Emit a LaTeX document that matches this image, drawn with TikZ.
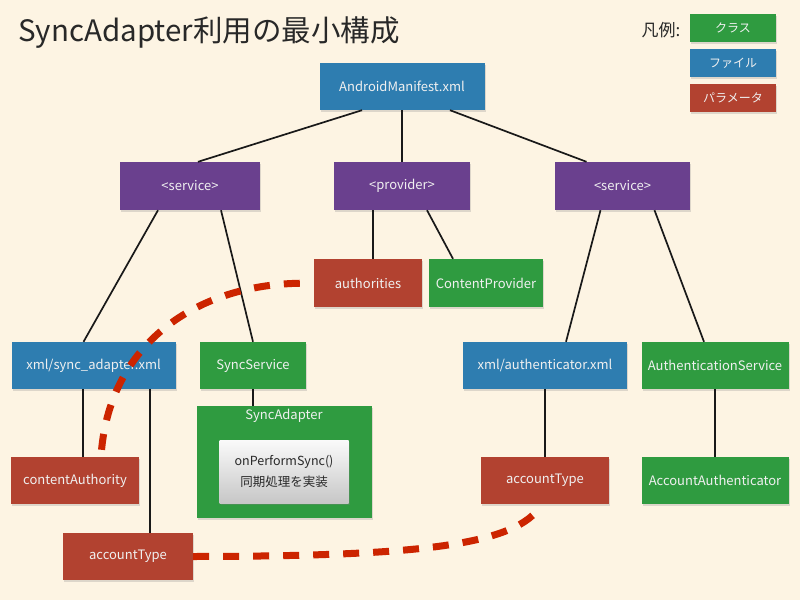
\documentclass[tikz,border=0pt]{standalone}
\usepackage{fontspec}
\setmainfont{Noto Sans CJK JP}
\usetikzlibrary{calc,shadows}
\definecolor{bg}{RGB}{253,244,227}
\definecolor{cblue}{RGB}{46,125,176}
\definecolor{cpurple}{RGB}{106,64,142}
\definecolor{cred}{RGB}{178,66,48}
\definecolor{cgreen}{RGB}{47,155,64}
\definecolor{cdash}{RGB}{204,36,0}
\definecolor{ctext}{RGB}{240,240,240}
\definecolor{cline}{RGB}{25,25,25}
\definecolor{cdark}{RGB}{40,40,40}
\tikzset{
  box/.style={rectangle, inner sep=0pt, text=ctext, font=\fontsize{13}{16}\selectfont,
    drop shadow={shadow xshift=1pt, shadow yshift=-1.5pt, opacity=0.25}},
  bluebox/.style={box, fill=cblue},
  purplebox/.style={box, fill=cpurple},
  redbox/.style={box, fill=cred},
  greenbox/.style={box, fill=cgreen},
  legbox/.style={minimum width=86pt, minimum height=28pt, font=\fontsize{12}{14}\selectfont},
  conn/.style={draw=cline, line width=1.7pt},
  reflink/.style={draw=cdash, line width=7pt, dash pattern=on 16pt off 14pt},
}
\begin{document}
\begin{tikzpicture}[x=1pt,y=-1pt]
\fill[bg] (0,0) rectangle (800,600);
\useasboundingbox (0,0) rectangle (800,600);

% title and legend
\node[anchor=west, inner sep=0pt, text=cdark, font=\fontsize{29.5}{34}\selectfont] (title) at (18,33) {SyncAdapter利用の最小構成};
\node[inner sep=0pt, text=cdark, font=\fontsize{17}{20}\selectfont] (legend) at (661,30) {凡例:};
\node[greenbox, legbox] (legclass) at (733,28) {クラス};
\node[bluebox, legbox] (legfile) at (733,63) {ファイル};
\node[redbox, legbox] (legparam) at (733,98) {パラメータ};

% nodes
\node[bluebox, minimum width=165pt, minimum height=47pt] (manifest) at (402,86.5) {AndroidManifest.xml};
\node[purplebox, minimum width=140pt, minimum height=48pt] (svcL) at (190,186) {<service>};
\node[purplebox, minimum width=136pt, minimum height=48pt] (prov) at (402,186) {<provider>};
\node[purplebox, minimum width=135pt, minimum height=48pt] (svcR) at (622.5,186) {<service>};
\node[redbox, minimum width=108pt, minimum height=48pt] (auth) at (368,283) {authorities};
\node[greenbox, minimum width=114pt, minimum height=48pt] (cprov) at (486,283) {ContentProvider};
\node[bluebox, minimum width=164pt, minimum height=47pt] (syncxml) at (93.5,365.5) {xml/sync\_adapter.xml};
\node[greenbox, minimum width=106pt, minimum height=47pt] (syncsvc) at (253,365.5) {SyncService};
\node[bluebox, minimum width=164pt, minimum height=47pt] (authxml) at (545,365.5) {xml/authenticator.xml};
\node[greenbox, minimum width=147pt, minimum height=47pt] (authsvc) at (715,365.5) {AuthenticationService};
\node[greenbox, minimum width=175pt, minimum height=112pt] (sa) at (284,462) {};
\node[inner sep=0pt, text=ctext, font=\fontsize{13}{16}\selectfont] (salabel) at (284,416) {SyncAdapter};
\node[rectangle, inner sep=0pt, minimum width=129pt, minimum height=63pt, top color=white!96!gray, bottom color=black!22,
  drop shadow={shadow xshift=1pt, shadow yshift=-1.5pt, opacity=0.3}, align=center, text=cdark,
  font=\fontsize{12.5}{21}\selectfont] (inner) at (284,471.5) {onPerformSync()\\同期処理を実装};
\node[redbox, minimum width=128pt, minimum height=47pt] (cauth) at (75,480.5) {contentAuthority};
\node[redbox, minimum width=128pt, minimum height=47pt] (acctR) at (545,480.5) {accountType};
\node[greenbox, minimum width=147pt, minimum height=47pt] (acctauth) at (715,480.5) {AccountAuthenticator};
\node[redbox, minimum width=130pt, minimum height=47pt] (acctB) at (128,556.5) {accountType};

% connectors
\draw[conn] ($(manifest.south)+(-40,0)$) -- ($(svcL.north)+(8,0)$);
\draw[conn] (manifest.south) -- (prov.north);
\draw[conn] ($(manifest.south)+(48,0)$) -- ($(svcR.north)+(-36,0)$);
\draw[conn] ($(svcL.south)+(-32,0)$) -- ($(syncxml.north)+(-10,0)$);
\draw[conn] ($(svcL.south)+(31,0)$) -- (syncsvc.north);
\draw[conn] ($(prov.south)+(-29,0)$) -- ($(auth.north)+(5,0)$);
\draw[conn] ($(prov.south)+(25,0)$) -- ($(cprov.north)+(-33,0)$);
\draw[conn] ($(svcR.south)+(-22,0)$) -- ($(authxml.north)+(21,0)$);
\draw[conn] ($(svcR.south)+(32,0)$) -- ($(authsvc.north)+(-11,0)$);
\draw[conn] ($(syncxml.south)+(-10.5,0)$) -- ($(cauth.north)+(8,0)$);
\draw[conn] ($(syncxml.south)+(56.5,0)$) -- ($(acctB.north)+(22,0)$);
\draw[conn] (syncsvc.south) -- ($(sa.north)+(-31,0)$);
\draw[conn] (authxml.south) -- (acctR.north);
\draw[conn] (authsvc.south) -- (acctauth.north);

% reference links
\draw[reflink, shorten <=14pt] (auth.west) .. controls (195,285) and (108,345) .. ($(cauth.north)+(26,0)$);
\draw[reflink, shorten >=5pt] (acctB.east) .. controls (400,556) and (510,548) .. ($(acctR.south)+(-3,0)$);
\end{tikzpicture}
\end{document}
